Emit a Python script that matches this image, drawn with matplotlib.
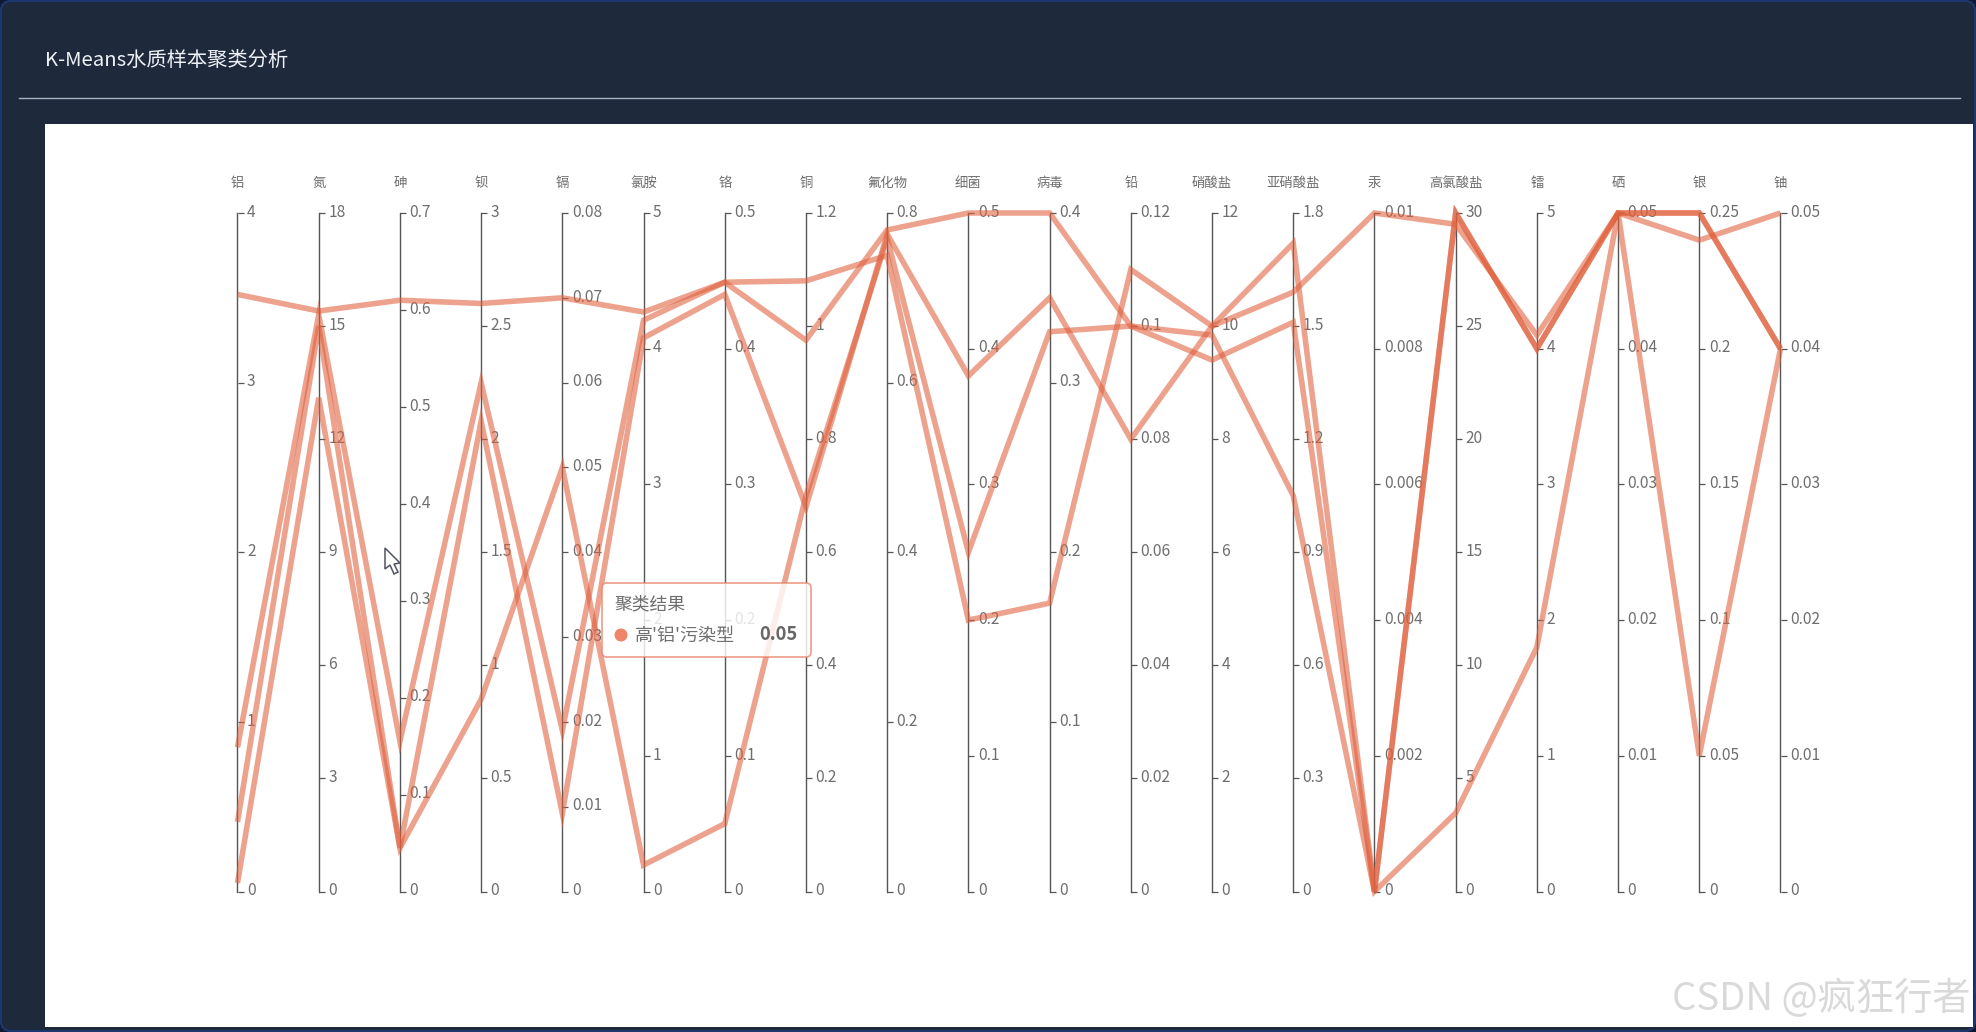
"""
K-Means water quality clusters, parallel coordinates.
"""

import matplotlib
matplotlib.use('Agg')
import matplotlib.pyplot as plt
from matplotlib.patches import Rectangle, FancyBboxPatch, Circle, Polygon
from matplotlib.transforms import ScaledTranslation

plt.rcParams['font.family'] = ['Noto Sans CJK SC', 'DejaVu Sans']

W, H = 1976, 1032

names = ['铝', '氮', '砷', '钡', '镉', '氯胺', '铬', '铜', '氟化物', '细菌', '病毒', '铅',
         '硝酸盐', '亚硝酸盐', '汞', '高氯酸盐', '镭', '硒', '银', '铀']

axis_ticks = [
    [0, 1, 2, 3, 4],
    [0, 3, 6, 9, 12, 15, 18],
    [0, 0.1, 0.2, 0.3, 0.4, 0.5, 0.6, 0.7],
    [0, 0.5, 1, 1.5, 2, 2.5, 3],
    [0, 0.01, 0.02, 0.03, 0.04, 0.05, 0.06, 0.07, 0.08],
    [0, 1, 2, 3, 4, 5],
    [0, 0.1, 0.2, 0.3, 0.4, 0.5],
    [0, 0.2, 0.4, 0.6, 0.8, 1, 1.2],
    [0, 0.2, 0.4, 0.6, 0.8],
    [0, 0.1, 0.2, 0.3, 0.4, 0.5],
    [0, 0.1, 0.2, 0.3, 0.4],
    [0, 0.02, 0.04, 0.06, 0.08, 0.1, 0.12],
    [0, 2, 4, 6, 8, 10, 12],
    [0, 0.3, 0.6, 0.9, 1.2, 1.5, 1.8],
    [0, 0.002, 0.004, 0.006, 0.008, 0.01],
    [0, 5, 10, 15, 20, 25, 30],
    [0, 1, 2, 3, 4, 5],
    [0, 0.01, 0.02, 0.03, 0.04, 0.05],
    [0, 0.05, 0.1, 0.15, 0.2, 0.25],
    [0, 0.01, 0.02, 0.03, 0.04, 0.05],
]

# the four samples of the cluster, one value per axis
sample_a = [3.52, 15.4, 0.61, 2.6, 0.07, 4.27, 0.449, 1.08, 0.75, 0.2, 0.17, 0.11,
            10.0, 1.72, 0, 30, 4.0, 0.05, 0.25, 0.04]
sample_b = [0.85, 15.3, 0.155, 2.25, 0.019, 4.21, 0.449, 0.975, 0.78, 0.5, 0.4, 0.1,
            9.4, 1.51, 0, 30, 4.0, 0.05, 0.25, 0.04]
sample_c = [0.41, 15.0, 0.045, 2.08, 0.0092, 4.08, 0.44, 0.68, 0.775, 0.38, 0.35, 0.08,
            10.0, 1.59, 0.01, 29.5, 4.1, 0.05, 0.24, 0.05]
sample_d = [0.05, 13.1, 0.045, 0.85, 0.05, 0.195, 0.05, 0.7, 0.77, 0.25, 0.33, 0.1,
            9.84, 1.05, 0, 3.47, 1.8, 0.05, 0.05, 0.04]
samples = [sample_a, sample_b, sample_c, sample_d]

DARK = '#1e293b'
LINE = '#e0603c'
GREY = '#6e6e6e'

# layout in pixels
LEFT, RIGHT = 237.5, 1780.5
TOP, BOTTOM = 213, 891.5


def px_rect(x0, y0, x1, y1):
    """ Figure fraction rect from pixel corners, y measured from the top. """
    return [x0 / W, 1 - y1 / H, (x1 - x0) / W, (y1 - y0) / H]


fig = plt.figure(figsize=(W / 100, H / 100), dpi=100, facecolor='#0f1a2e')

# page behind everything, in pixel coords
page = fig.add_axes([0, 0, 1, 1], zorder=0)
page.set_xlim(0, W)
page.set_ylim(H, 0)
page.axis('off')
page.add_patch(FancyBboxPatch((1, 1), W - 2, H - 2, boxstyle='round,pad=0,rounding_size=10',
                              facecolor=DARK, edgecolor='#1d3770', linewidth=1.5))
page.add_patch(Rectangle((44.5, 123.5), 1973 - 44.5, 1027 - 123.5, facecolor='white', edgecolor='none'))
page.plot([19, 1960], [97.5, 97.5], color='#a9b3c0', lw=1)
page.text(45, 60, 'K-Means水质样本聚类分析', color='#eef2f6', fontsize=14.6, fontweight='medium',
          va='center', ha='left')
page.text(1971, 1000, 'CSDN @疯狂行者', color='#d9d9d9', fontsize=27.5, va='center', ha='right')

# labels sit a little above their ticks in the reference
label_shift = ScaledTranslation(0, 2 / 72, fig.dpi_scale_trans)

# one thin axes per dimension
n = len(names)
step = (RIGHT - LEFT) / (n - 1)
for i, (name, ticks) in enumerate(zip(names, axis_ticks)):
    x = LEFT + i * step
    dim = fig.add_axes(px_rect(x - 0.05, TOP, x + 0.05, BOTTOM), zorder=1)
    dim.patch.set_visible(False)
    for side in ['top', 'bottom', 'right']:
        dim.spines[side].set_visible(False)
    dim.spines['left'].set_color('#555555')
    dim.spines['left'].set_linewidth(1.0)
    dim.set_xticks([])
    dim.set_ylim(0, ticks[-1])
    dim.yaxis.tick_right()
    dim.set_yticks(ticks, labels=[str(t) for t in ticks])
    dim.tick_params(axis='y', direction='out', length=4.4, width=0.9, color='#555555',
                    labelcolor=GREY, labelsize=11.2, pad=2.4)
    for label in dim.get_yticklabels():
        label.set_transform(label.get_transform() + label_shift)
    page.text(x, 183, name, color=GREY, fontsize=9.6, fontweight='medium', ha='center', va='center')

# the lines sit on a shared 0-1 scale over the dimension axes
lines_ax = fig.add_axes(px_rect(LEFT, TOP, RIGHT, BOTTOM), zorder=2)
lines_ax.patch.set_visible(False)
lines_ax.axis('off')
lines_ax.set_xlim(0, n - 1)
lines_ax.set_ylim(0, 1)
for s in samples:
    scaled = [v / t[-1] for v, t in zip(s, axis_ticks)]
    lines_ax.plot(range(n), scaled, color=LINE, alpha=0.58, lw=4.0, clip_on=False,
                  solid_joinstyle='miter', solid_capstyle='butt')

# tooltip and mouse pointer on top
over = fig.add_axes([0, 0, 1, 1], zorder=3)
over.patch.set_visible(False)
over.axis('off')
over.set_xlim(0, W)
over.set_ylim(H, 0)
over.add_patch(FancyBboxPatch((602, 583), 209, 74, boxstyle='round,pad=0,rounding_size=5',
                              facecolor=(1, 1, 1, 0.82), edgecolor=(0.91, 0.52, 0.42, 0.75), linewidth=1.3))
over.text(614, 604, '聚类结果', color='#6e6e6e', fontsize=12.8, va='center', ha='left')
over.add_patch(Circle((621, 635), 6.5, facecolor='#ee8468', edgecolor='none'))
over.text(635, 636, "高'铝'污染型", color='#707070', fontsize=13.0, va='center', ha='left')
over.text(797, 635, '0.05', color='#666666', fontsize=13.2, fontweight='bold', va='center', ha='right')
over.add_patch(Polygon([(385, 548), (385, 569), (390, 565), (394, 574), (398, 572), (394, 564), (400, 563)],
                       closed=True, facecolor='white', edgecolor='#505560', linewidth=1.1))

fig.savefig('out.png', dpi=100)
